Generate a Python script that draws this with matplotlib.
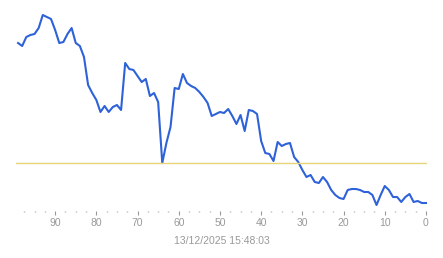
import numpy as np
import matplotlib
matplotlib.use("Agg")
import matplotlib.pyplot as plt
from matplotlib.ticker import MultipleLocator

# minutes ago (x) and reading (arbitrary units)
minutes = list(range(99, -1, -1))
values = [177, 174, 183, 185, 186, 192, 205, 203, 201, 190,
          177, 178, 186, 192, 177, 174, 163, 135, 127, 120,
          108, 114, 108, 113, 115, 110, 157, 151, 150, 144,
          138, 141, 124, 127, 118, 57, 77, 93, 132, 131,
          146, 137, 134, 132, 128, 123, 117, 104, 106, 108,
          107, 111, 104, 96, 105, 89, 110, 109, 106, 79,
          67, 66, 59, 78, 74, 76, 77, 63, 58, 50,
          43, 45, 38, 37, 43, 38, 30, 25, 22, 21,
          30, 31, 31, 30, 28, 28, 25, 15, 25, 34,
          30, 23, 23, 18, 23, 26, 18, 19, 17, 17]
threshold = 57
timestamp = "13/12/2025 15:48:03"

fig = plt.figure(figsize=(4.43, 2.58), dpi=100)
ax = fig.add_axes([16 / 443, (258 - 211) / 258, 411 / 443, 211 / 258])

ax.plot(minutes, values, color="#2e62d9", lw=1.5, solid_joinstyle="round")
ax.axhline(threshold, color="#e8d47a", lw=1)

ax.set_xlim(99.5, -0.25)
ax.set_ylim(9, 220)
ax.set_yticks([])
for s in ax.spines.values():
    s.set_visible(False)

ax.xaxis.set_major_locator(MultipleLocator(10))
ax.xaxis.set_minor_locator(MultipleLocator(2.5))
ax.tick_params(axis="x", which="major", length=3, width=0.8, color="#999999",
               labelcolor="#999999", labelsize=7.5, pad=2)
ax.tick_params(axis="x", which="minor", length=1, width=1, color="#aaaaaa")
for lbl in ax.get_xticklabels():
    lbl.set_family("Liberation Sans")

fig.text(222 / 443, 1 - 241 / 258, timestamp, ha="center", va="center",
         color="#999999", fontsize=7.5, family="Liberation Sans")

fig.savefig("out.png", dpi=100)
